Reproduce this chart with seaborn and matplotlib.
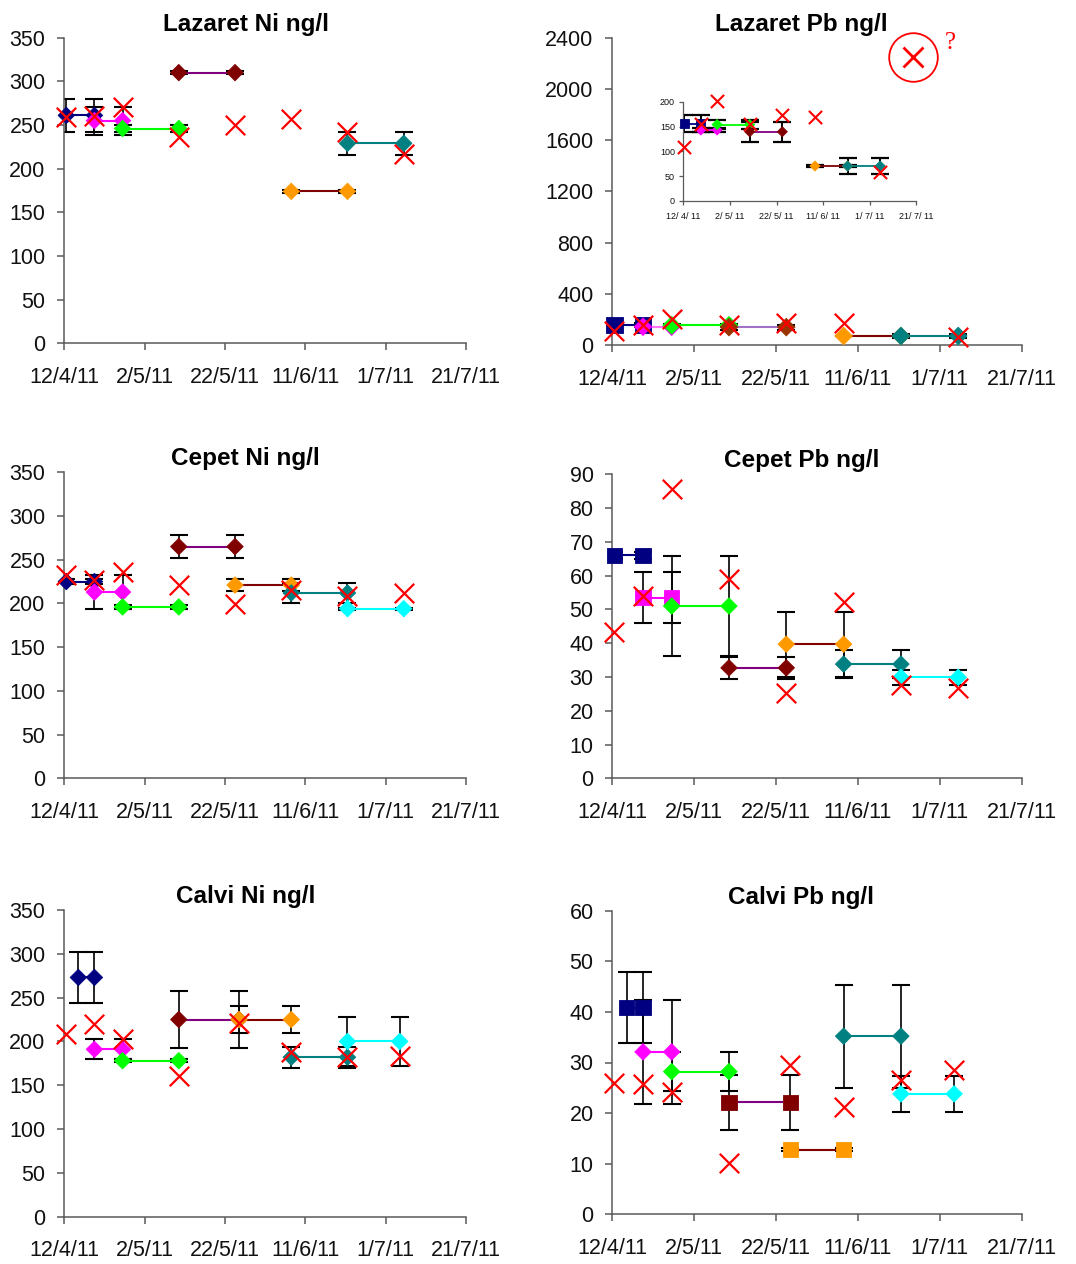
import numpy as np
import pandas as pd
import matplotlib
matplotlib.use("Agg")
import matplotlib.pyplot as plt
import matplotlib.dates as mdates
import seaborn as sns

# ---------------- sampling calendar (2011) ----------------
lazaret_spot_dates = ["2011-04-12", "2011-04-19", "2011-04-26", "2011-05-10",
                      "2011-05-24", "2011-06-07", "2011-06-21", "2011-07-05"]
lazaret_pb_spot_dates = ["2011-04-12", "2011-04-19", "2011-04-26", "2011-05-10",
                         "2011-05-24", "2011-06-07", "2011-07-05"]
lazaret_start = ["2011-04-12", "2011-04-19", "2011-04-26", "2011-05-10",
                 "2011-06-07", "2011-06-21"]
lazaret_end = ["2011-04-19", "2011-04-26", "2011-05-10", "2011-05-24",
               "2011-06-21", "2011-07-05"]
lazaret_series = ["navy", "magenta", "green", "maroon", "orange", "teal"]

cepet_spot_dates = ["2011-04-12", "2011-04-19", "2011-04-26", "2011-05-10",
                    "2011-05-24", "2011-06-07", "2011-06-21", "2011-07-05"]
cepet_start = ["2011-04-12", "2011-04-19", "2011-04-26", "2011-05-10",
               "2011-05-24", "2011-06-07", "2011-06-21"]
cepet_end = ["2011-04-19", "2011-04-26", "2011-05-10", "2011-05-24",
             "2011-06-07", "2011-06-21", "2011-07-05"]
cepet_series = ["navy", "magenta", "green", "maroon", "orange", "teal", "cyan"]

calvi_spot_dates = ["2011-04-12", "2011-04-19", "2011-04-26", "2011-05-10",
                    "2011-05-25", "2011-06-07", "2011-06-21", "2011-07-04"]
calvi_start = ["2011-04-15", "2011-04-19", "2011-04-26", "2011-05-10",
               "2011-05-25", "2011-06-07", "2011-06-21"]
calvi_end = ["2011-04-19", "2011-04-26", "2011-05-10", "2011-05-25",
             "2011-06-07", "2011-06-21", "2011-07-04"]
calvi_series = ["navy", "magenta", "green", "maroon", "orange", "teal", "cyan"]

# ---------------- concentrations (ng/l) ----------------
# passive sampler (time-averaged) means and their uncertainty
lazaret_ni_mean = [261, 255, 246, 310, 174, 229]
lazaret_ni_err = [18.5, 16, 4, 2, 1.5, 13]
lazaret_ni_spot = [259, 260, 271, 236, 250, 257, 242, 217]

lazaret_pb_mean = [156, 143, 154, 139.5, 70.5, 70.5]
lazaret_pb_err = [18, 4, 9, 20, 3, 17]
lazaret_pb_spot = [109, 156, 202, 156, 173, 169, 59]
lazaret_pb_outlier_date = "2011-06-24"
lazaret_pb_outlier = 2250

cepet_ni_mean = [225, 213, 196, 265, 221, 212, 194]
cepet_ni_err = [3, 19, 2, 13.5, 7, 11.5, 1]
cepet_ni_spot = [232, 227, 236, 221, 199, 215, 208, 212]

cepet_pb_mean = [66, 53.5, 51, 32.7, 39.7, 33.8, 29.9]
cepet_pb_err = [1, 7.5, 14.7, 3.2, 9.6, 4.2, 2.2]
cepet_pb_spot = [43.3, 54.1, 85.6, 59.0, 25.4, 52.1, 27.6, 26.7]

calvi_ni_mean = [273, 191, 178, 225, 225, 182, 200]
calvi_ni_err = [29, 11.5, 2, 32, 15.6, 12, 28]
calvi_ni_spot = [208, 220, 203, 160, 221, 188, 182, 183]

calvi_pb_mean = [40.8, 32.1, 28.2, 22.1, 12.8, 35.2, 23.8]
calvi_pb_err = [7, 10.3, 3.8, 5.5, 0.3, 10.2, 3.6]
calvi_pb_spot = [25.9, 25.7, 24.2, 10.2, 29.5, 21.3, 26.5, 28.5]

# ---------------- axis ticks ----------------
tick_dates = ["2011-04-12", "2011-05-02", "2011-05-22", "2011-06-11",
              "2011-07-01", "2011-07-21"]
tick_labels = ["12/4/11", "2/5/11", "22/5/11", "11/6/11", "1/7/11", "21/7/11"]
inset_tick_labels = ["12/ 4/ 11", "2/ 5/ 11", "22/ 5/ 11", "11/ 6/ 11",
                     "1/ 7/ 11", "21/ 7/ 11"]

# ---------------- styling ----------------
marker_colors = {"navy": "#000080", "magenta": "#FF00FF", "green": "#00FF00",
                 "maroon": "#800000", "orange": "#FF9900", "teal": "#008080",
                 "cyan": "#00FFFF"}
line_colors = {"navy": "#000080", "magenta": "#FF00FF", "green": "#00FF00",
               "maroon": "#800080", "orange": "#800000", "teal": "#008080",
               "cyan": "#00FFFF"}
pb_main_marker_colors = dict(marker_colors, maroon="#993300")
pb_main_line_colors = dict(line_colors, magenta="#FF77FF", maroon="#A070C8")

sns.set_theme(style="ticks")
plt.rcParams["font.family"] = ["Liberation Sans", "DejaVu Sans"]

W, H = 1076, 1264
fig = plt.figure(figsize=(W / 100, H / 100), dpi=100)
fig.patch.set_facecolor("white")

SPINE = "#5a5a5a"


def px_axes(x0, y0, x1, y1):
    """Axes from a pixel box (left, top, right, bottom)."""
    ax = fig.add_axes([x0 / W, 1 - y1 / H, (x1 - x0) / W, (y1 - y0) / H])
    ax.set_facecolor("white")
    return ax


def to_x(dates):
    # points sit mid-day on the date axis
    return mdates.date2num(pd.to_datetime(dates)) + 0.5


def style_axes(ax, ymax, ystep, labels, fs=15.5, tick_len=5, lw=1.1,
               xpad=12, ypad=8.5):
    ax.set_xlim(mdates.date2num(pd.to_datetime(tick_dates[0])),
                mdates.date2num(pd.to_datetime(tick_dates[-1])))
    ax.set_xticks(mdates.date2num(pd.to_datetime(tick_dates)))
    ax.set_xticklabels(labels)
    ax.set_ylim(0, ymax)
    ax.set_yticks(np.arange(0, ymax + ystep / 2, ystep))
    for side in ("top", "right"):
        ax.spines[side].set_visible(False)
    for side in ("left", "bottom"):
        ax.spines[side].set_color(SPINE)
        ax.spines[side].set_linewidth(lw)
    ax.tick_params(axis="both", direction="out", length=tick_len, width=lw,
                   color=SPINE, labelsize=fs, labelcolor="#111111")
    ax.tick_params(axis="x", pad=xpad)
    ax.tick_params(axis="y", pad=ypad)
    ax.grid(False)
    ax.set_xlabel("")
    ax.set_ylabel("")


def draw_periods(ax, starts, ends, series, means, errs, shapes,
                 mcols, lcols, sq=120, dm=70, lw=1.5, capsize=6.8,
                 elw=1.2, capthick=1.5):
    rows = []
    for k, (s, e, name, m, er, sh) in enumerate(
            zip(starts, ends, series, means, errs, shapes)):
        for d in (s, e):
            rows.append({"period": k, "series": name, "x": to_x([d])[0],
                         "value": m, "err": er, "shape": sh})
    df = pd.DataFrame(rows)
    ax.errorbar(df["x"], df["value"], yerr=df["err"], fmt="none",
                ecolor="black", elinewidth=elw, capsize=capsize,
                capthick=capthick, zorder=2)
    sns.lineplot(data=df, x="x", y="value", hue="period", units="period",
                 estimator=None,
                 palette={k: lcols[n] for k, n in enumerate(series)},
                 legend=False, linewidth=lw, ax=ax, zorder=3)
    sns.scatterplot(data=df, x="x", y="value", hue="period", style="period",
                    size="period",
                    palette={k: mcols[n] for k, n in enumerate(series)},
                    markers={k: sh for k, sh in enumerate(shapes)},
                    sizes={k: (sq if sh == "s" else dm)
                           for k, sh in enumerate(shapes)},
                    edgecolor="face", linewidth=0.6, legend=False,
                    ax=ax, zorder=4, clip_on=False)


def draw_spots(ax, dates, values, s=196, lw=1.6):
    sp = pd.DataFrame({"x": to_x(dates), "value": values})
    sns.scatterplot(data=sp, x="x", y="value", marker="x", color="#FF0000",
                    s=s, linewidth=lw, legend=False, ax=ax, zorder=5,
                    clip_on=False)


def panel(box, title, title_x, starts, ends, series, means, errs, shapes,
          spot_dates, spot_vals, ymax, ystep, mcols=marker_colors,
          lcols=line_colors, sq=120, dm=70):
    ax = px_axes(*box)
    draw_periods(ax, starts, ends, series, means, errs, shapes, mcols, lcols,
                 sq=sq, dm=dm)
    draw_spots(ax, spot_dates, spot_vals)
    style_axes(ax, ymax, ystep, tick_labels)
    ax.set_title(title, x=title_x, pad=5, fontsize=17.5, fontweight="bold",
                 color="#000000")
    return ax


D = "D"
S = "s"

# ---- Lazaret Ni ----
panel((64.3, 37.7, 466, 343.3), "Lazaret Ni ng/l", 0.452,
      lazaret_start, lazaret_end, lazaret_series, lazaret_ni_mean,
      lazaret_ni_err, [D] * 6, lazaret_spot_dates, lazaret_ni_spot, 350, 50)

# ---- Lazaret Pb (full range, with zoomed inset) ----
ax_lpb = panel((612.3, 37.7, 1021.7, 345), "Lazaret Pb ng/l", 0.462,
               lazaret_start, lazaret_end, lazaret_series, lazaret_pb_mean,
               lazaret_pb_err, [S, D, D, D, D, D], lazaret_pb_spot_dates,
               lazaret_pb_spot, 2400, 400, mcols=pb_main_marker_colors,
               lcols=pb_main_line_colors, sq=140, dm=80)
ox = to_x([lazaret_pb_outlier_date])[0]
ax_lpb.plot([ox], [lazaret_pb_outlier], marker="x", ms=15, mew=2,
            color="#FF0000", ls="none", zorder=6, clip_on=False)
ax_lpb.plot([ox], [lazaret_pb_outlier], marker="o", ms=35, mew=1.3,
            mfc="none", mec="#FF0000", ls="none", zorder=6, clip_on=False)
ax_lpb.annotate("?", xy=(ox, lazaret_pb_outlier), xytext=(27, 10),
                textcoords="offset points", ha="center", va="center",
                color="#FF0000", fontsize=18,
                family=["Liberation Serif", "DejaVu Serif"])

ax_in = px_axes(683.3, 101.7, 916.3, 201)
ax_in.patch.set_alpha(0)
draw_periods(ax_in, lazaret_start, lazaret_end, lazaret_series,
             lazaret_pb_mean, lazaret_pb_err, [S, D, D, D, D, D],
             marker_colors, line_colors, sq=45, dm=26, lw=1.3,
             capsize=6.5, elw=1.4, capthick=1.6)
draw_spots(ax_in, lazaret_pb_spot_dates, lazaret_pb_spot, s=90, lw=1.5)
style_axes(ax_in, 200, 50, inset_tick_labels, fs=6.5, tick_len=3, lw=0.9,
           xpad=5, ypad=3)

# ---- Cepet Ni ----
panel((64.3, 472.3, 466, 778.3), "Cepet Ni ng/l", 0.452,
      cepet_start, cepet_end, cepet_series, cepet_ni_mean, cepet_ni_err,
      [D] * 7, cepet_spot_dates, cepet_ni_spot, 350, 50)

# ---- Cepet Pb ----
panel((612.3, 474.3, 1021.7, 778.3), "Cepet Pb ng/l", 0.462,
      cepet_start, cepet_end, cepet_series, cepet_pb_mean, cepet_pb_err,
      [S, S, D, D, D, D, D], cepet_spot_dates, cepet_pb_spot, 90, 10)

# ---- Calvi Ni ----
panel((64.3, 910, 466, 1216.7), "Calvi Ni ng/l", 0.452,
      calvi_start, calvi_end, calvi_series, calvi_ni_mean, calvi_ni_err,
      [D] * 7, calvi_spot_dates, calvi_ni_spot, 350, 50)

# ---- Calvi Pb ----
panel((612.3, 910.7, 1021.7, 1214.3), "Calvi Pb ng/l", 0.462,
      calvi_start, calvi_end, calvi_series, calvi_pb_mean, calvi_pb_err,
      [S, D, D, S, S, D, D], calvi_spot_dates, calvi_pb_spot, 60, 10)

fig.savefig("out.png", dpi=100, facecolor="white")
